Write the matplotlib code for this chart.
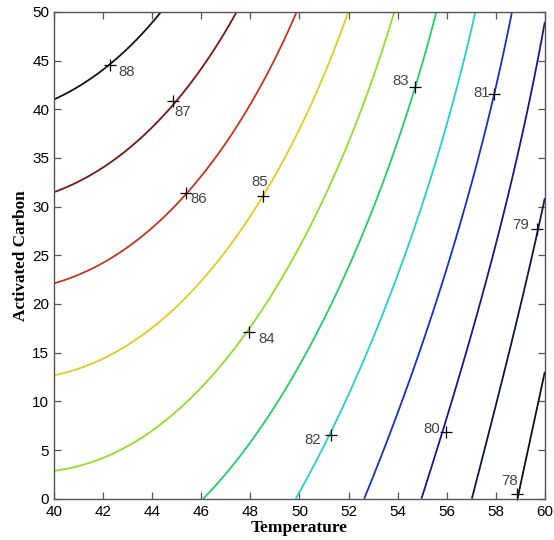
import numpy as np
import matplotlib.pyplot as plt

# contour levels and their colours
levels = [78, 79, 80, 81, 82, 83, 84, 85, 86, 87, 88]
level_colors = ['#111111', '#14144a', '#141a8c', '#1432c4', '#22cfd6', '#22cf62',
                '#8ee024', '#e6c81e', '#c8341c', '#7c1414', '#1a1010']

# points: (Temperature, Activated Carbon)
pts_88 = [(40, 40.8), (42.28, 44.57), (44.41, 50)]
pts_87 = [(40, 31.2), (42.28, 35.1), (44.83, 40.8), (47.44, 50)]
pts_86 = [(40, 22.0), (41.2, 23.5), (43.23, 26.6), (45.38, 31.39), (49.89, 50)]
pts_85 = [(40, 12.5), (44, 17.3), (46.49, 23.8), (48.53, 31.04), (50.43, 39.9), (51.99, 50)]
pts_84 = [(40, 3.0), (44, 7.06), (47.96, 17.1), (49.61, 23.8), (51.92, 36.5), (53.89, 50)]
pts_83 = [(46.0, 0), (48.8, 8.4), (50.43, 15.6), (52.06, 23.7), (54.7, 42.3), (55.59, 50)]
pts_82 = [(49.89, 0), (51.28, 6.55), (52.33, 13.2), (54.23, 23.6), (55.86, 37.55), (57.15, 50)]
pts_81 = [(52.64, 0), (54.23, 12.2), (56.13, 23.6), (57.92, 41.56), (58.64, 50)]
pts_80 = [(54.98, 0), (55.96, 6.89), (56.4, 13.2), (57.76, 23.6), (60, 48.7)]
pts_79 = [(57.01, 0), (58.17, 12.2), (59.39, 23.6), (59.66, 27.7), (60, 30.5)]
pts_78 = [(58.92, 0), (60, 12.4)]

# label positions ('+' marks) and text offsets in pixels
label_T = [58.87, 59.66, 55.96, 57.92, 51.28, 54.7, 47.96, 48.53, 45.38, 44.83, 42.28]
label_C = [0.48, 27.7, 6.89, 41.56, 6.55, 42.3, 17.1, 31.04, 31.39, 40.8, 44.57]
label_dx = [-8, -16, -14, -12, -18, -14, 17, -4, 13, 10, 17]
label_dy = [13, 4, 3, 1, -5, 6, -7, 14, -6, -11, -7]

all_pts = [pts_78, pts_79, pts_80, pts_81, pts_82, pts_83, pts_84, pts_85, pts_86, pts_87, pts_88]

# fit a cubic response surface through the read points
T_obs, C_obs, Z_obs = [], [], []
for lev, pts in zip(levels, all_pts):
    for t, c in pts:
        T_obs.append(t)
        C_obs.append(c)
        Z_obs.append(lev)
T_obs = np.array(T_obs)
C_obs = np.array(C_obs)
Z_obs = np.array(Z_obs, dtype=float)


def design(t, c):
    x = (t - 50) / 10
    y = (c - 25) / 25
    return np.column_stack([np.ones_like(x), x, y, x * x, x * y, y * y,
                            x ** 3, x * x * y, x * y * y, y ** 3])


coef, *_ = np.linalg.lstsq(design(T_obs, C_obs), Z_obs, rcond=None)

tt = np.linspace(40, 60, 300)
cc = np.linspace(0, 50, 300)
TT, CC = np.meshgrid(tt, cc)
ZZ = (design(TT.ravel(), CC.ravel()) @ coef).reshape(TT.shape)

fig = plt.figure(figsize=(5.54, 5.40), dpi=100)
ax = fig.add_axes([0.0975, 0.0765, 0.886, 0.9015])

ax.contour(TT, CC, ZZ, levels=levels, colors=level_colors, linewidths=1.3)

for lev, t, c, dx, dy in zip(levels, label_T, label_C, label_dx, label_dy):
    ax.plot(t, c, marker='+', color='black', ms=9, mew=0.9, clip_on=False)
    ax.annotate(str(lev), (t, c), xytext=(dx, dy), textcoords='offset pixels',
                ha='center', va='center', fontsize=10.8, color='#444444',
                family='Liberation Sans')

ax.set_xlim(40, 60)
ax.set_ylim(0, 50)
ax.set_xticks(np.arange(40, 61, 2))
ax.set_yticks(np.arange(0, 51, 5))
ax.tick_params(direction='in', top=True, right=True, length=5, width=0.9,
               color='#555555', labelsize=11)
ax.tick_params(axis='x', pad=4.5)
ax.tick_params(axis='y', pad=3.5)
for lab in ax.get_xticklabels() + ax.get_yticklabels():
    lab.set_family('Liberation Sans')
for sp in ax.spines.values():
    sp.set_color('#555555')
    sp.set_linewidth(1.0)

ax.set_xlabel('Temperature', family='Liberation Serif', fontweight='bold',
              fontsize=12.5, labelpad=0.5)
ax.set_ylabel('Activated Carbon', family='Liberation Serif', fontweight='bold',
              fontsize=12.3, labelpad=2.5)

fig.savefig('out.png', dpi=100)
